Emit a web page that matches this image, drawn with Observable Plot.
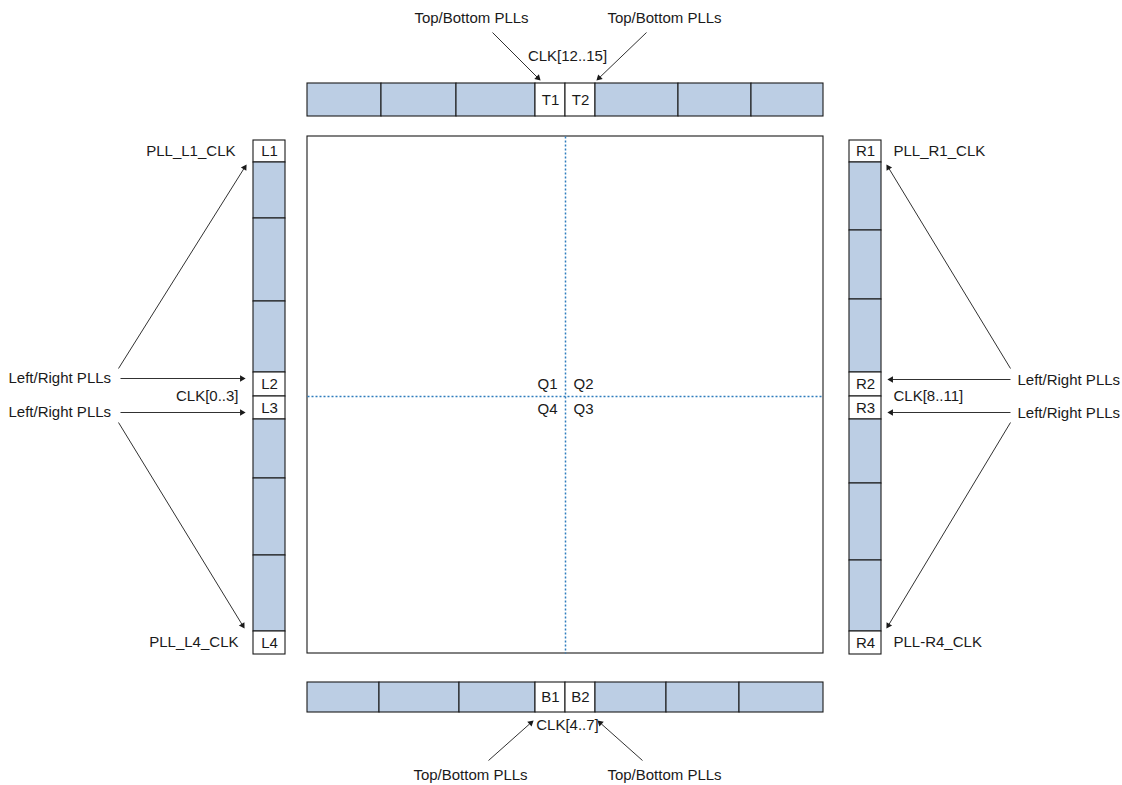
<!DOCTYPE html>
<html>
<head>
<meta charset="utf-8">
<script src="https://cdn.jsdelivr.net/npm/d3@7"></script>
<script src="https://cdn.jsdelivr.net/npm/@observablehq/plot@0.6"></script>
<style>
  html, body { margin: 0; padding: 0; background: #fff; }
  #chart { width: 1122px; height: 785px; }
</style>
</head>
<body>
<div id="chart"></div>
<script>
// ---- Data (diagram geometry in page pixels) ----
const topEdges = [307, 381, 456, 535, 565, 595, 678, 751, 823];
const topLabels = ["", "", "", "T1", "T2", "", "", ""];
const topBand = [83, 116];

const bottomEdges = [307, 379, 459, 535, 565, 595, 666, 739, 823];
const bottomLabels = ["", "", "", "B1", "B2", "", "", ""];
const bottomBand = [682, 712];

const leftEdges = [140, 162, 218, 301, 372, 396, 419, 478, 555, 631, 654];
const leftLabels = ["L1", "", "", "", "L2", "L3", "", "", "", "L4"];
const leftBand = [253, 285];

const rightEdges = [140, 162, 230, 299, 372, 396, 419, 483, 560, 631, 654];
const rightLabels = ["R1", "", "", "", "R2", "R3", "", "", "", "R4"];
const rightBand = [849, 881];

const core = {x1: 307, y1: 136, x2: 823, y2: 653};
const dividerX = 565;
const dividerY = 396;

const quadrantNames = ["Q1", "Q2", "Q4", "Q3"];
const quadrantX = [557, 573, 557, 573];
const quadrantY = [384, 384, 409, 409];
const quadrantAnchor = ["end", "start", "end", "start"];

const arrowX1 = [492, 646, 118, 120, 120, 118, 1010, 1010, 1010, 1010, 488, 642];
const arrowY1 = [32, 32, 368, 378, 412, 422, 368, 379, 412, 422, 760, 760];
const arrowX2 = [540, 596, 246, 245, 245, 244, 886, 887, 887, 886, 533, 597];
const arrowY2 = [80, 80, 164, 378, 412, 628, 164, 379, 412, 628, 720, 720];

const labelTexts = ["Top/Bottom PLLs", "Top/Bottom PLLs", "CLK[12..15]",
  "PLL_L1_CLK", "Left/Right PLLs", "CLK[0..3]", "Left/Right PLLs", "PLL_L4_CLK",
  "PLL_R1_CLK", "Left/Right PLLs", "CLK[8..11]", "Left/Right PLLs", "PLL-R4_CLK",
  "CLK[4..7]", "Top/Bottom PLLs", "Top/Bottom PLLs"];
const labelX = [471, 664, 567, 235, 8, 238, 8, 238, 893, 1017, 893, 1017, 893, 567, 470, 664];
const labelY = [18, 18, 56, 151, 378, 396, 412, 642, 151, 380, 396, 413, 642, 725, 775, 775];
const labelAnchor = ["middle", "middle", "middle", "end", "start", "end", "start", "end",
  "start", "start", "start", "start", "start", "middle", "middle", "middle"];

// ---- Build tables ----
const BLUE = "#bccee4";
function hSegs(edges, labels, band) {
  return labels.map((l, i) => ({x1: edges[i], x2: edges[i + 1], y1: band[0], y2: band[1], label: l}));
}
function vSegs(edges, labels, band) {
  return labels.map((l, i) => ({y1: edges[i], y2: edges[i + 1], x1: band[0], x2: band[1], label: l}));
}
const segs = [
  ...hSegs(topEdges, topLabels, topBand),
  ...hSegs(bottomEdges, bottomLabels, bottomBand),
  ...vSegs(leftEdges, leftLabels, leftBand),
  ...vSegs(rightEdges, rightLabels, rightBand)
];
const segLabels = segs.filter(d => d.label);

const arrows = arrowX1.map((x1, i) => {
  const x2 = arrowX2[i], y2 = arrowY2[i];
  const dx = x2 - x1, dy = y2 - arrowY1[i];
  const len = Math.hypot(dx, dy);
  const ux = dx / len, uy = dy / len;
  const off = 3.6;
  return {x1, y1: arrowY1[i], x2, y2,
    hx: x2 - ux * off, hy: y2 - uy * off,
    ex: x2 - ux * 5, ey: y2 - uy * 5,
    rot: Math.atan2(dx, -dy) * 180 / Math.PI};
});

const labels = labelTexts.map((t, i) => ({text: t, x: labelX[i], y: labelY[i], anchor: labelAnchor[i]}));
const quads = quadrantNames.map((t, i) => ({text: t, x: quadrantX[i], y: quadrantY[i], anchor: quadrantAnchor[i]}));
const allTexts = [...labels, ...quads];

const W = 1122, H = 785;
const FS = 15;
const INK = "#1a1a1a";

const textMarks = ["start", "middle", "end"].map(a =>
  Plot.text(allTexts.filter(d => d.anchor === a), {x: "x", y: "y", text: "text", textAnchor: a, fontSize: FS, fill: INK}));

const chart = Plot.plot({
  width: W,
  height: H,
  margin: 0,
  x: {domain: [0, W], range: [0, W], axis: null},
  y: {domain: [0, H], range: [0, H], axis: null},
  style: {fontFamily: "'Liberation Sans', Arial, Helvetica, sans-serif", background: "#fff"},
  marks: [
    // core square
    Plot.rect([core], {x1: "x1", x2: "x2", y1: "y1", y2: "y2", fill: "white", stroke: INK, strokeWidth: 1.1}),
    // dashed dividers
    Plot.link([{x1: dividerX, x2: dividerX, y1: core.y1, y2: core.y2}, {x1: core.x1, x2: core.x2, y1: dividerY, y2: dividerY}],
      {x1: "x1", y1: "y1", x2: "x2", y2: "y2", stroke: "#2f7dbd", strokeWidth: 1.5, strokeDasharray: "2,2"}),
    // I/O bank segments
    Plot.rect(segs, {x1: "x1", x2: "x2", y1: "y1", y2: "y2", fill: d => d.label ? "white" : BLUE, stroke: INK, strokeWidth: 1.1}),
    Plot.text(segLabels, {x: d => (d.x1 + d.x2) / 2, y: d => (d.y1 + d.y2) / 2, text: "label", fontSize: FS, fill: INK}),
    // arrows
    Plot.link(arrows, {x1: "x1", y1: "y1", x2: "ex", y2: "ey", stroke: INK, strokeWidth: 0.9}),
    Plot.dot(arrows, {x: "hx", y: "hy", symbol: "triangle", r: 2.4, rotate: "rot", fill: INK, stroke: "none"}),
    // labels
    ...textMarks
  ]
});
document.getElementById("chart").appendChild(chart);
</script>
</body>
</html>
